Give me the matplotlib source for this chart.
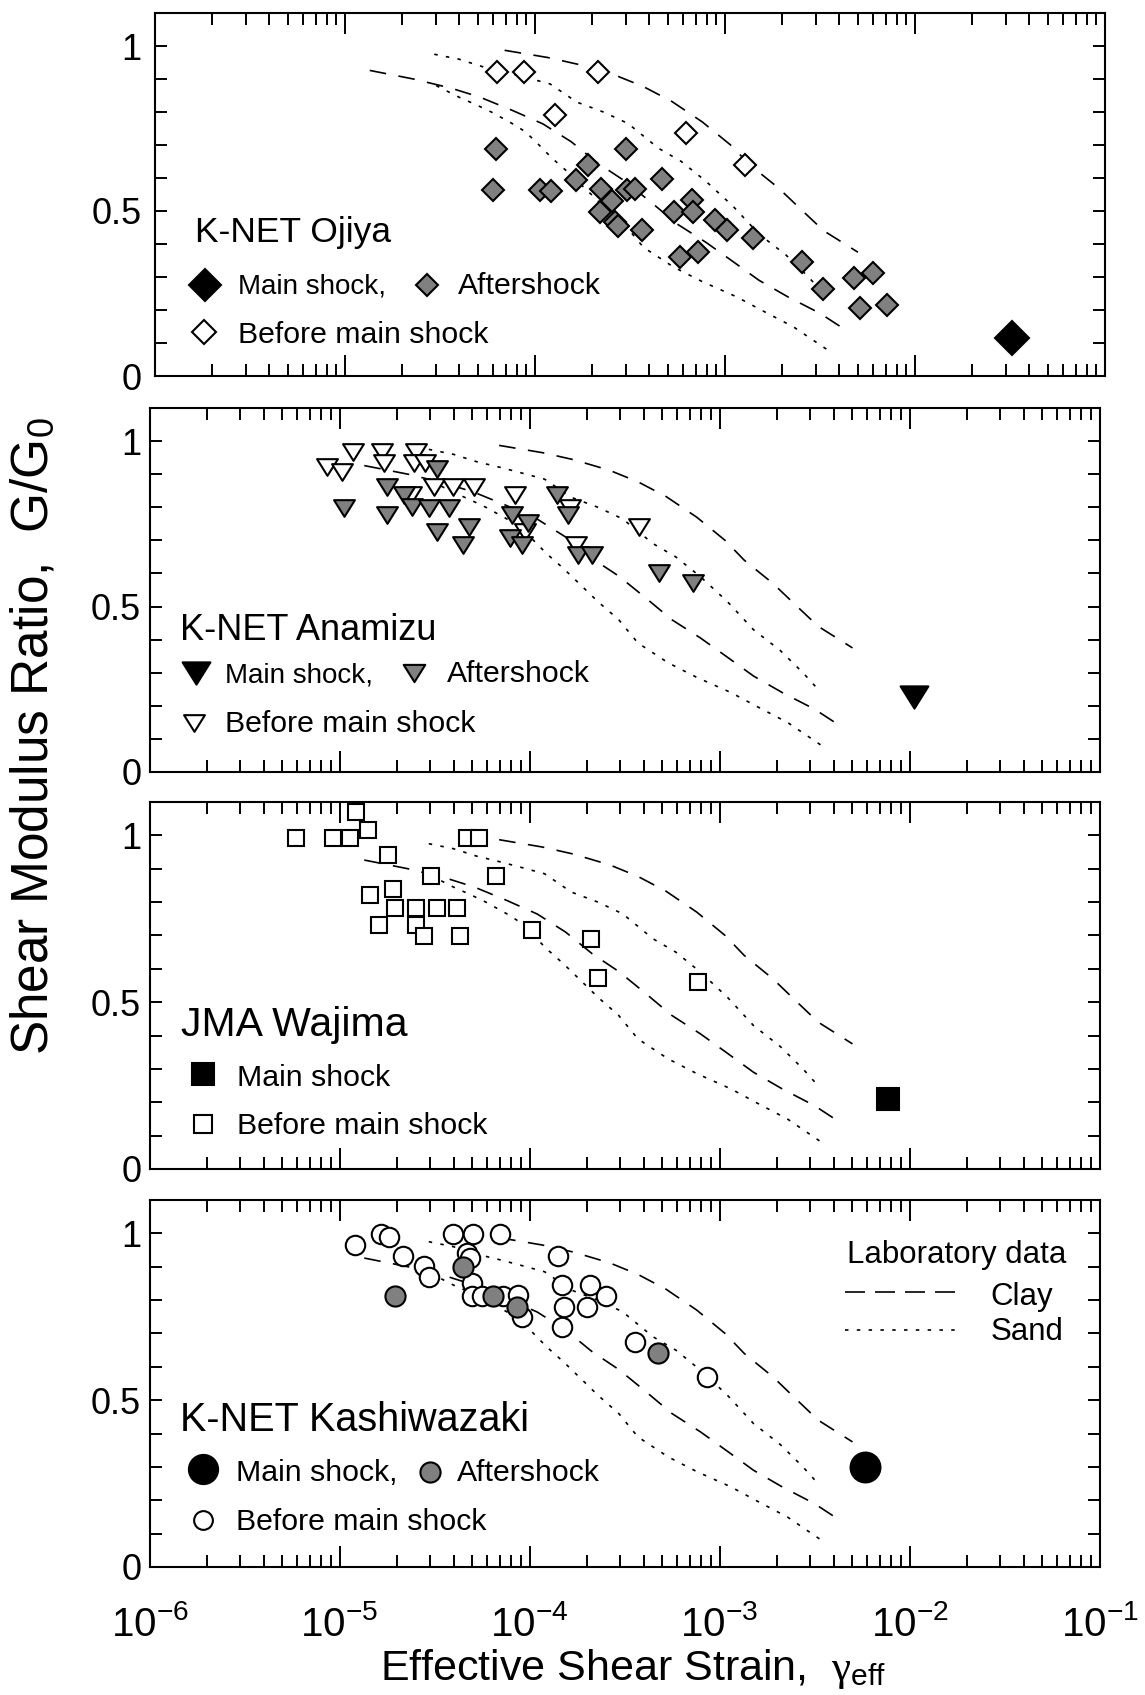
import numpy as np
import matplotlib
matplotlib.use('Agg')
import matplotlib.pyplot as plt
from matplotlib.path import Path
from matplotlib.ticker import LogLocator, FixedLocator, NullFormatter, FuncFormatter

plt.rcParams['font.family'] = ['Liberation Sans', 'DejaVu Sans']
plt.rcParams['mathtext.fontset'] = 'custom'
plt.rcParams['mathtext.rm'] = 'Liberation Sans'
plt.rcParams['mathtext.it'] = 'Liberation Serif'
plt.rcParams['lines.scale_dashes'] = False

# laboratory G/G0 curves (upper and lower bounds)
clay_hi_strain = [6.92e-5, 1.17e-4, 1.70e-4, 2.63e-4, 3.72e-4, 5.25e-4, 7.59e-4, 1.07e-3,
                  1.35e-3, 1.91e-3, 2.51e-3, 3.31e-3, 5.01e-3]
clay_hi_ratio = [0.987, 0.965, 0.944, 0.912, 0.877, 0.832, 0.77, 0.70, 0.64, 0.57, 0.505, 0.44, 0.375]
clay_lo_strain = [1.35e-5, 2.29e-5, 3.63e-5, 5.13e-5, 7.59e-5, 1.10e-4, 1.55e-4, 2.14e-4, 2.95e-4,
                  4.07e-4, 5.62e-4, 7.94e-4, 1.10e-3, 1.51e-3, 2.14e-3, 3.16e-3, 4.17e-3]
clay_lo_ratio = [0.926, 0.900, 0.872, 0.845, 0.805, 0.764, 0.710, 0.645, 0.592, 0.527, 0.46, 0.405,
                 0.347, 0.29, 0.24, 0.19, 0.145]
sand_hi_strain = [2.95e-5, 3.98e-5, 5.25e-5, 7.08e-5, 8.91e-5, 1.20e-4, 1.66e-4, 2.29e-4, 3.09e-4,
                  4.47e-4, 5.89e-4, 7.94e-4, 1.10e-3, 1.51e-3, 2.09e-3, 2.75e-3, 3.24e-3]
sand_hi_ratio = [0.975, 0.960, 0.938, 0.920, 0.905, 0.885, 0.83, 0.80, 0.765, 0.69, 0.65, 0.59, 0.515,
                 0.43, 0.367, 0.30, 0.255]
sand_lo_strain = [3.02e-5, 3.98e-5, 4.90e-5, 5.89e-5, 7.59e-5, 8.91e-5, 1.05e-4, 1.23e-4, 1.51e-4,
                  1.86e-4, 2.29e-4, 2.95e-4, 3.72e-4, 5.37e-4, 7.59e-4, 1.15e-3, 1.55e-3, 2.29e-3, 3.55e-3]
sand_lo_ratio = [0.88, 0.845, 0.822, 0.80, 0.765, 0.74, 0.70, 0.66, 0.615, 0.565, 0.515, 0.46, 0.39,
                 0.33, 0.286, 0.24, 0.20, 0.149, 0.075]

# K-NET Ojiya
ojiya_main = ([3.24e-2], [0.115])
ojiya_after = ([6.21e-5, 5.98e-5, 1.06e-4, 1.21e-4, 1.64e-4, 1.91e-4, 3.00e-4, 2.22e-4, 2.54e-4, 2.20e-4,
                2.64e-4, 2.75e-4, 3.04e-4, 3.36e-4, 3.67e-4, 4.65e-4, 5.41e-4, 6.73e-4, 6.81e-4, 5.79e-4,
                7.24e-4, 8.85e-4, 1.02e-3, 1.41e-3, 2.53e-3, 3.27e-3, 4.79e-3, 5.98e-3, 5.14e-3, 7.10e-3],
               [0.687, 0.564, 0.564, 0.562, 0.594, 0.639, 0.687, 0.566, 0.531, 0.498,
                0.468, 0.455, 0.564, 0.566, 0.442, 0.597, 0.498, 0.533, 0.498, 0.362,
                0.377, 0.473, 0.442, 0.417, 0.346, 0.263, 0.296, 0.311, 0.205, 0.215])
ojiya_before = ([6.28e-5, 8.79e-5, 2.15e-4, 1.27e-4, 6.24e-4, 1.27e-3],
                [0.922, 0.922, 0.922, 0.791, 0.735, 0.639])

# K-NET Anamizu
anamizu_main = ([1.05e-2], [0.228])
anamizu_after = ([3.25e-5, 1.77e-5, 1.06e-5, 1.77e-5, 2.19e-5, 2.40e-5, 2.97e-5, 3.77e-5, 3.27e-5, 4.81e-5,
                  4.49e-5, 8.05e-5, 9.86e-5, 7.89e-5, 9.10e-5, 1.39e-4, 1.60e-4, 1.79e-4, 2.12e-4, 4.82e-4,
                  7.28e-4],
                 [0.917, 0.862, 0.797, 0.776, 0.837, 0.800, 0.797, 0.797, 0.724, 0.741,
                  0.686, 0.776, 0.751, 0.706, 0.686, 0.837, 0.776, 0.656, 0.656, 0.600,
                  0.570])
anamizu_before = ([1.18e-5, 8.57e-6, 1.03e-5, 1.68e-5, 1.71e-5, 2.53e-5, 2.47e-5, 2.82e-5, 2.37e-5, 3.14e-5,
                   3.94e-5, 5.13e-5, 8.39e-5, 9.46e-5, 1.63e-4, 1.76e-4, 3.78e-4],
                  [0.966, 0.921, 0.907, 0.966, 0.934, 0.966, 0.934, 0.933, 0.837, 0.862,
                   0.862, 0.862, 0.837, 0.726, 0.797, 0.686, 0.741])

# JMA Wajima
wajima_main = ([7.67e-3], [0.21])
wajima_before = ([1.22e-5, 5.90e-6, 9.20e-6, 1.14e-5, 1.42e-5, 1.79e-5, 1.45e-5, 1.91e-5, 1.96e-5, 2.52e-5,
                  3.27e-5, 4.17e-5, 1.62e-5, 2.52e-5, 2.79e-5, 4.31e-5, 3.02e-5, 4.68e-5, 5.45e-5, 6.64e-5,
                  1.03e-4, 2.10e-4, 2.30e-4, 7.74e-4],
                 [1.071, 0.991, 0.991, 0.991, 1.016, 0.941, 0.821, 0.838, 0.782, 0.782,
                  0.782, 0.782, 0.731, 0.731, 0.699, 0.699, 0.878, 0.991, 0.991, 0.878,
                  0.716, 0.689, 0.572, 0.561])

# K-NET Kashiwazaki
kashi_main = ([5.82e-3], [0.30])
kashi_after = ([1.96e-5, 4.49e-5, 6.40e-5, 8.57e-5, 4.76e-4],
               [0.812, 0.900, 0.812, 0.780, 0.642])
kashi_before = ([1.21e-5, 1.65e-5, 1.83e-5, 2.17e-5, 2.79e-5, 2.97e-5, 3.94e-5, 5.06e-5, 7.00e-5, 4.67e-5,
                 4.85e-5, 4.97e-5, 4.97e-5, 5.60e-5, 7.28e-5, 8.73e-5, 9.10e-5, 1.42e-4, 1.48e-4, 1.51e-4,
                 1.48e-4, 2.08e-4, 2.53e-4, 2.01e-4, 3.59e-4, 8.57e-4],
                [0.965, 0.998, 0.990, 0.932, 0.902, 0.870, 0.998, 0.998, 0.998, 0.940,
                 0.925, 0.850, 0.812, 0.812, 0.812, 0.815, 0.750, 0.932, 0.845, 0.780,
                 0.720, 0.845, 0.812, 0.778, 0.675, 0.570])

GRAY = '#808080'
TRI_DOWN = Path([(-1, 0.8), (1, 0.8), (0, -0.8), (-1, 0.8)],
                [Path.MOVETO, Path.LINETO, Path.LINETO, Path.CLOSEPOLY])

W, H = 1145, 1695
fig = plt.figure(figsize=(W / 100, H / 100), dpi=100)


def make_axes(left, top, bottom, width=950):
    return fig.add_axes([left / W, 1 - bottom / H, width / W, (bottom - top) / H])


def style_axes(ax, ypad, xlabels=False):
    ax.set_xscale('log')
    ax.set_xlim(1e-6, 1e-1)
    ax.set_ylim(0, 1.1)
    ax.xaxis.set_major_locator(LogLocator(base=10, numticks=10))
    ax.xaxis.set_minor_locator(LogLocator(base=10, subs=np.arange(2, 10), numticks=10))
    ax.xaxis.set_minor_formatter(NullFormatter())
    if xlabels:
        ax.xaxis.set_major_formatter(FuncFormatter(
            lambda v, p: r'$\mathregular{10^{%d}}$' % round(np.log10(v))))
    else:
        ax.xaxis.set_major_formatter(NullFormatter())
    ax.yaxis.set_major_locator(FixedLocator([0, 0.5, 1.0]))
    ax.yaxis.set_minor_locator(FixedLocator([0.1, 0.2, 0.3, 0.4, 0.6, 0.7, 0.8, 0.9]))
    ax.yaxis.set_major_formatter(FuncFormatter(lambda v, p: {0: '0', 0.5: '0.5', 1.0: '1'}[v]))
    ax.tick_params(which='both', direction='in', top=True, right=True, width=1.4, color='black')
    ax.tick_params(axis='x', which='major', length=15, labelsize=29, pad=27)
    ax.tick_params(axis='x', which='minor', length=8.3)
    ax.tick_params(axis='y', which='both', length=8.3, labelsize=26, pad=ypad)
    for s in ax.spines.values():
        s.set_linewidth(1.5)


def draw_lab_curves(ax):
    kw = dict(color='black', lw=1.2, zorder=1)
    ax.plot(clay_hi_strain, clay_hi_ratio, dashes=(12, 9), **kw)
    ax.plot(clay_lo_strain, clay_lo_ratio, dashes=(12, 9), **kw)
    ax.plot(sand_hi_strain, sand_hi_ratio, dashes=(2.5, 6), **kw)
    ax.plot(sand_lo_strain, sand_lo_ratio, dashes=(2.5, 6), **kw)


def key(ax, x, y, marker, size, face):
    ax.plot([x], [y], marker=marker, ms=size, mfc=face, mec='black', mew=1.5,
            ls='none', transform=ax.transAxes, clip_on=False)


def label(ax, x, y, s, size=21.8):
    ax.text(x, y, s, transform=ax.transAxes, fontsize=size, ha='left', va='baseline')


panels = [
    dict(box=(155, 13, 376), name='K-NET Ojiya', name_size=25.5, marker='D', ypad=9.5,
         sizes=(17, 11, 11.5), main=ojiya_main, after=ojiya_after, before=ojiya_before,
         title_pos=(0.0417, 0.370),
         keys=[(0.0526, 0.251, 16.5, 'black'), (0.286, 0.251, 11, GRAY), (0.052, 0.122, 12, 'white')],
         texts=[(0.0877, 0.226, 'Main shock,', 20), (0.319, 0.226, 'Aftershock', 21.8),
                (0.0877, 0.090, 'Before main shock', 21.8)]),
    dict(box=(149.5, 408, 772), name='K-NET Anamizu', name_size=26, marker=TRI_DOWN, ypad=6,
         sizes=(20, 15, 15), main=anamizu_main, after=anamizu_after, before=anamizu_before,
         title_pos=(0.0316, 0.363),
         keys=[(0.0486, 0.271, 20, 'black'), (0.278, 0.271, 15.5, GRAY), (0.0465, 0.134, 15, 'white')],
         texts=[(0.0799, 0.246, 'Main shock,', 20), (0.313, 0.246, 'Aftershock', 21.8),
                (0.0799, 0.109, 'Before main shock', 21.8)]),
    dict(box=(149.5, 802, 1169), name='JMA Wajima', name_size=29.5, marker='s', ypad=6,
         sizes=(16, 12, 12), main=wajima_main, after=None, before=wajima_before,
         title_pos=(0.0327, 0.362),
         keys=[(0.0568, 0.2575, 15.5, 'black'), (0.0568, 0.123, 13, 'white')],
         texts=[(0.0916, 0.226, 'Main shock', 21.8), (0.0916, 0.0954, 'Before main shock', 21.8)]),
    dict(box=(149.5, 1200, 1567), name='K-NET Kashiwazaki', name_size=28.5, marker='o', ypad=6,
         sizes=(21.5, 14.5, 14), main=kashi_main, after=kashi_after, before=kashi_before,
         title_pos=(0.032, 0.3706),
         keys=[(0.0558, 0.266, 21, 'black'), (0.295, 0.26, 14.5, GRAY), (0.0568, 0.128, 13.5, 'white')],
         texts=[(0.091, 0.234, 'Main shock,', 21.8), (0.324, 0.234, 'Aftershock', 21.8),
                (0.091, 0.101, 'Before main shock', 21.8)]),
]

for i, p in enumerate(panels):
    ax = make_axes(*p['box'])
    style_axes(ax, p['ypad'], xlabels=(i == len(panels) - 1))
    draw_lab_curves(ax)
    ms_main, ms_after, ms_before = p['sizes']
    ax.plot(*p['before'], ls='none', marker=p['marker'], ms=ms_before, mfc='white',
            mec='black', mew=1.5, zorder=3)
    if p['after'] is not None:
        ax.plot(*p['after'], ls='none', marker=p['marker'], ms=ms_after, mfc=GRAY,
                mec='black', mew=1.5, zorder=4)
    ax.plot(*p['main'], ls='none', marker=p['marker'], ms=ms_main, mfc='black',
            mec='black', mew=1.5, zorder=5)

    label(ax, *p['title_pos'], p['name'], size=p['name_size'])
    for kx, ky, ks, kc in p['keys']:
        key(ax, kx, ky, p['marker'], ks, kc)
    for tx, ty, ts, tsize in p['texts']:
        label(ax, tx, ty, ts, size=tsize)

    if i == len(panels) - 1:
        # legend for the laboratory curves
        label(ax, 0.734, 0.828, 'Laboratory data', size=22.5)
        ax.plot([0.732, 0.850], [0.750, 0.750], color='black', lw=1.2, dashes=(14.4, 7.2),
                transform=ax.transAxes)
        label(ax, 0.885, 0.714, 'Clay', size=22.5)
        ax.plot([0.732, 0.850], [0.646, 0.646], color='black', lw=1.2, dashes=(2.5, 6),
                transform=ax.transAxes)
        label(ax, 0.885, 0.6185, 'Sand', size=22.5)

fig.text(0.030, 0.566, r'Shear Modulus Ratio,  G/G$_{0}$', rotation=90,
         ha='center', va='center', fontsize=37)
fig.text(0.553, 0.009, r'Effective Shear Strain,  $\gamma_{\rm eff}$',
         ha='center', va='baseline', fontsize=31)

fig.savefig('out.png', dpi=100)
